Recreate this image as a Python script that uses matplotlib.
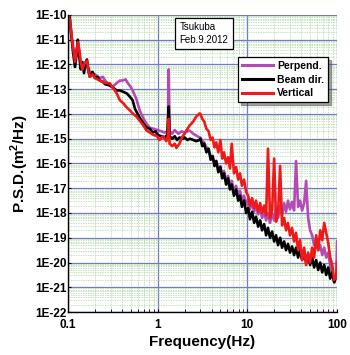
import numpy as np
import matplotlib
matplotlib.use('Agg')
import matplotlib.pyplot as plt
from matplotlib.ticker import LogLocator, FixedLocator, NullFormatter

plt.rcParams['font.family'] = ['Liberation Sans', 'DejaVu Sans']
plt.rcParams['mathtext.fontset'] = 'custom'
plt.rcParams['mathtext.bf'] = 'Liberation Sans:bold'

# values are log10 of the PSD in m^2/Hz
# shared frequency grid above 3 Hz
f_hi = [3.0, 3.15, 3.3, 3.5, 3.7, 3.9, 4.1, 4.3, 4.5, 4.75,
        5.0, 5.25, 5.5, 5.8, 6.1, 6.4, 6.7, 7.1, 7.5, 7.9,
        8.3, 8.7, 9.2, 9.7, 10.2, 10.7, 11.3, 11.9, 12.5, 13.2,
        13.9, 14.6, 15.4, 16.2, 17.0, 17.9, 18.9, 19.9, 20.9, 22,
        23.2, 24.4, 25.7, 27, 28.4, 29.9, 31.5, 33.2, 34.9, 36.8,
        38.7, 40.8, 43, 45.2, 47.6, 50.1, 52.8, 55.6, 58.5, 61.6,
        64.9, 68.3, 71.9, 75.7, 79.7, 83.9, 88.4, 93, 97.9, 100]

# Perpend.
perp_f_lo = [0.100, 0.105, 0.114, 0.120, 0.129, 0.134, 0.139, 0.151, 0.163, 0.176,
             0.200, 0.227, 0.245, 0.260, 0.293, 0.316, 0.350, 0.380, 0.410, 0.440,
             0.464, 0.500, 0.527, 0.580, 0.631, 0.700, 0.753, 0.814, 0.900, 1.00,
             1.10, 1.20, 1.30, 1.33, 1.36, 1.45, 1.55, 1.70, 1.85, 2.00,
             2.27, 2.50, 2.93]
perp_lo = [-10.0, -10.4, -11.3, -11.6, -11.2, -11.5, -12.0, -12.1, -12.0, -12.3,
           -12.4, -12.55, -12.5, -12.65, -12.85, -12.9, -12.75, -12.65, -12.65, -12.6,
           -12.75, -12.9, -13.05, -13.4, -13.85, -14.2, -14.4, -14.55, -14.6, -14.65,
           -14.7, -14.75, -14.7, -12.2, -14.7, -14.8, -14.65, -14.8, -14.7, -14.75,
           -14.67, -14.8, -14.95]
perp_hi = [-14.95, -15.1, -15.15, -15.35, -15.45, -15.7, -15.7, -16.0, -15.9, -16.25,
           -16.1, -16.45, -16.3, -16.7, -16.5, -16.9, -16.7, -17.1, -16.9, -17.3,
           -17.1, -17.5, -17.3, -17.65, -17.45, -17.85, -17.6, -17.95, -17.7, -18.05,
           -17.8, -18.2, -17.95, -18.3, -18.0, -18.4, -18.0, -18.3, -17.8, -18.2,
           -17.7, -18.1, -17.6, -17.95, -17.5, -17.85, -17.55, -17.9, -15.9, -17.75,
           -17.5, -17.9, -17.6, -16.7, -18.2, -18.7, -18.9, -19.3, -19.1, -19.5,
           -19.3, -19.7, -19.4, -19.8, -19.6, -20.1, -20.5, -20.8, -20.6, -19.15]

# Beam dir.
beam_f_lo = [0.100, 0.105, 0.114, 0.120, 0.125, 0.129, 0.134, 0.139, 0.145, 0.151,
             0.157, 0.163, 0.170, 0.176, 0.188, 0.200, 0.213, 0.227, 0.245, 0.260,
             0.293, 0.316, 0.350, 0.380, 0.410, 0.453, 0.490, 0.527, 0.560, 0.600,
             0.631, 0.700, 0.753, 0.820, 0.880, 0.950, 1.00, 1.10, 1.20, 1.28,
             1.33, 1.36, 1.45, 1.55, 1.65, 1.75, 1.90, 2.00, 2.15, 2.30,
             2.50, 2.70, 2.93]
beam_lo = [-10.0, -10.1, -11.5, -12.1, -11.6, -11.0, -11.7, -12.2, -11.9, -12.35,
           -12.0, -11.8, -12.3, -12.5, -12.3, -12.55, -12.5, -12.65, -12.7, -12.8,
           -12.85, -12.93, -13.05, -13.05, -13.1, -13.17, -13.3, -13.45, -13.8, -14.0,
           -14.15, -14.4, -14.55, -14.6, -14.75, -14.7, -14.85, -14.9, -14.95, -14.85,
           -13.7, -14.9, -15.0, -14.9, -15.05, -14.95, -15.0, -14.95, -15.05, -15.0,
           -15.05, -15.1, -15.05]
beam_hi = [-15.0, -15.3, -15.2, -15.55, -15.4, -15.85, -15.7, -16.1, -15.9, -16.35,
           -16.15, -16.6, -16.4, -16.85, -16.6, -17.05, -16.85, -17.3, -17.05, -17.5,
           -17.3, -17.75, -17.5, -18.0, -17.8, -18.25, -17.95, -18.4, -18.15, -18.55,
           -18.3, -18.7, -18.45, -18.9, -18.6, -19.0, -18.75, -19.15, -18.9, -19.3,
           -19.0, -19.4, -19.15, -19.5, -19.25, -19.6, -19.35, -19.7, -19.4, -19.8,
           -19.5, -19.9, -19.6, -20.0, -19.7, -20.1, -19.8, -20.2, -19.9, -20.3,
           -20.0, -20.4, -20.1, -20.5, -20.2, -20.65, -20.4, -20.8, -20.5, -20.6]

# Vertical
vert_f_lo = [0.100, 0.105, 0.114, 0.120, 0.125, 0.129, 0.134, 0.139, 0.145, 0.151,
             0.157, 0.163, 0.170, 0.176, 0.188, 0.200, 0.227, 0.260, 0.293, 0.316,
             0.350, 0.380, 0.410, 0.453, 0.490, 0.527, 0.580, 0.631, 0.690, 0.753,
             0.820, 0.900, 0.977, 1.05, 1.15, 1.25, 1.30, 1.33, 1.36, 1.45,
             1.55, 1.62, 1.75, 1.90, 2.00, 2.15, 2.27, 2.50, 2.70, 2.93]
vert_lo = [-10.0, -10.2, -11.3, -11.9, -11.5, -11.1, -11.4, -11.9, -12.2, -12.0,
           -11.9, -11.85, -12.3, -12.5, -12.4, -12.55, -12.65, -12.75, -12.76, -12.93,
           -13.17, -13.45, -13.55, -13.74, -13.85, -13.98, -14.1, -14.27, -14.45, -14.67,
           -14.75, -14.85, -14.88, -15.05, -14.9, -15.1, -14.9, -14.2, -15.2, -15.3,
           -15.2, -15.37, -15.2, -14.9, -14.8, -14.6, -14.47, -14.3, -14.1, -13.98]
vert_hi = [-14.0, -14.2, -14.3, -14.6, -14.7, -15.05, -14.95, -15.35, -15.15, -15.55,
           -15.05, -15.8, -15.55, -16.0, -15.75, -16.2, -15.2, -16.4, -16.15, -16.65,
           -16.4, -16.9, -16.65, -17.15, -17.3, -17.7, -17.4, -17.8, -17.5, -17.95,
           -17.6, -18.0, -17.7, -18.1, -15.4, -18.2, -17.9, -15.8, -18.35, -18.05,
           -16.1, -18.5, -18.2, -18.7, -18.4, -18.9, -18.6, -19.15, -18.8, -19.5,
           -19.1, -19.9, -19.4, -20.1, -19.6, -20.0, -19.4, -19.8, -18.9, -19.5,
           -18.7, -19.1, -18.4, -18.8, -19.2, -19.8, -20.1, -20.7, -20.6, -20.0]

ytick_vals = [1e-10, 1e-11, 1e-12, 1e-13, 1e-14, 1e-15, 1e-16,
              1e-17, 1e-18, 1e-19, 1e-20, 1e-21, 1e-22]
ytick_labels = ['1E-10', '1E-11', '1E-12', '1E-13', '1E-14', '1E-15', '1E-16',
                '1E-17', '1E-18', '1E-19', '1E-20', '1E-21', '1E-22']
xtick_vals = [0.1, 1, 10, 100]
xtick_labels = ['0.1', '1', '10', '100']

fig = plt.figure(figsize=(3.5, 3.55), dpi=100)
ax = fig.add_axes([0.194, 0.121, 0.769, 0.837])

ax.plot(perp_f_lo + f_hi, 10 ** np.array(perp_lo + perp_hi), color='#b24cb4', lw=1.9)
ax.plot(beam_f_lo + f_hi, 10 ** np.array(beam_lo + beam_hi), color='black', lw=1.9)
ax.plot(vert_f_lo + f_hi, 10 ** np.array(vert_lo + vert_hi), color='#f01818', lw=1.9)

ax.set_xscale('log')
ax.set_yscale('log')
ax.set_xlim(0.1, 100)
ax.set_ylim(1e-22, 1e-10)

ax.yaxis.set_major_locator(FixedLocator(ytick_vals))
ax.set_yticklabels(ytick_labels, fontweight='bold', fontsize=8.5)
ax.xaxis.set_major_locator(FixedLocator(xtick_vals))
ax.set_xticklabels(xtick_labels, fontweight='bold', fontsize=8.5)
ax.yaxis.set_minor_locator(LogLocator(base=10, subs=np.arange(2, 10), numticks=100))
ax.xaxis.set_minor_locator(LogLocator(base=10, subs=np.arange(2, 10), numticks=100))
ax.yaxis.set_minor_formatter(NullFormatter())
ax.xaxis.set_minor_formatter(NullFormatter())

ax.grid(True, which='minor', color='#a8d8a0', lw=0.5, linestyle=(0, (2, 1.5)))
ax.grid(True, which='major', color='#7777cc', lw=0.9)
ax.set_axisbelow(True)
ax.tick_params(which='both', direction='in', length=2)
ax.tick_params(axis='y', which='both', pad=1)
ax.tick_params(axis='x', which='both', pad=5)
ax.tick_params(axis='y', which='minor', length=0)
for s in ['top', 'right']:
    ax.spines[s].set_visible(False)
ax.spines['left'].set_linewidth(1.0)
ax.spines['bottom'].set_linewidth(1.0)

ax.set_ylabel('P.S.D.(m$^\\mathbf{2}$/Hz)', fontsize=11, fontweight='bold', labelpad=3)
ax.set_xlabel('Frequency(Hz)', fontsize=11, fontweight='bold', labelpad=3)

# station / date box
ax.text(0.415, 0.975, 'Tsukuba\nFeb.9.2012', transform=ax.transAxes, fontsize=7,
        va='top', ha='left', linespacing=1.3,
        bbox=dict(boxstyle='square,pad=0.45', fc='white', ec='black', lw=0.9))

leg = ax.legend(['Perpend.', 'Beam dir.', 'Vertical'], loc='upper right',
                bbox_to_anchor=(0.985, 0.875), prop={'weight': 'bold', 'size': 7.5},
                handlelength=3.0, handletextpad=0.4, borderpad=0.35, labelspacing=0.35,
                fancybox=False, shadow=True, framealpha=1)
leg.get_frame().set_edgecolor('black')
leg.get_frame().set_linewidth(0.9)
for ln in leg.get_lines():
    ln.set_linewidth(2.2)

fig.savefig('out.png', dpi=100)
